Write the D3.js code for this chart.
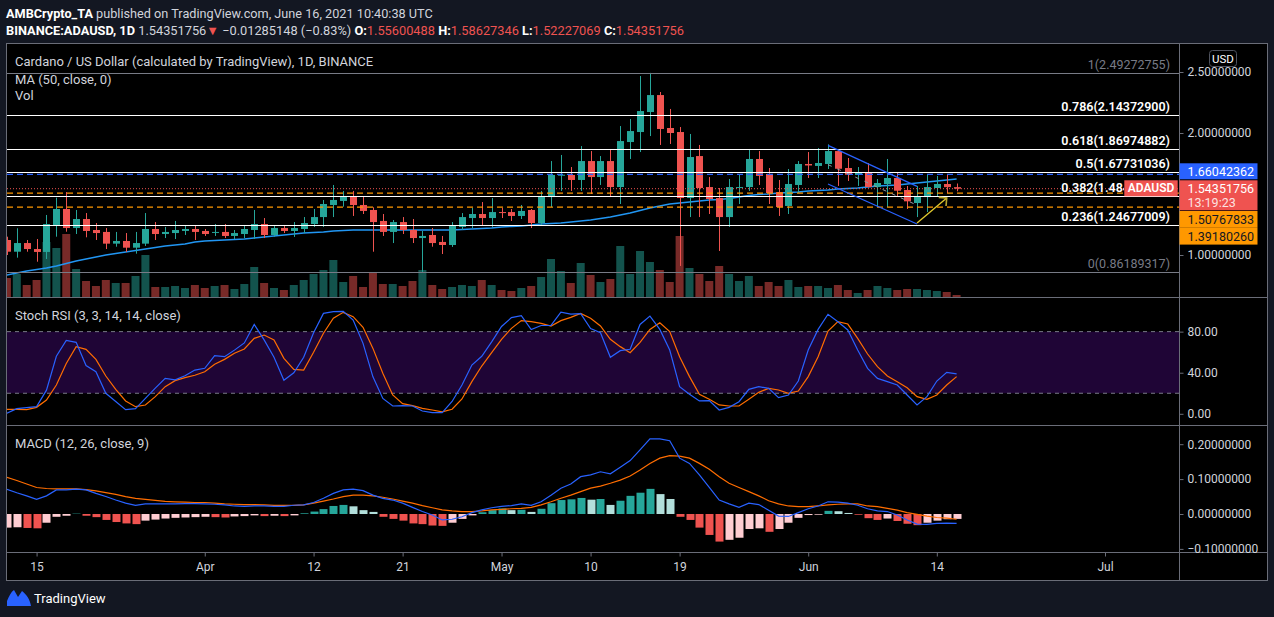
<!DOCTYPE html>
<html><head><meta charset="utf-8">
<script src="https://cdn.jsdelivr.net/npm/d3@7/dist/d3.min.js"></script>
<style>
html,body{margin:0;padding:0;background:#131722;overflow:hidden;}
svg{display:block;}
text{font-family:Roboto,"Noto Sans",sans-serif;}
</style></head><body>
<svg id="c" width="1274" height="617"></svg>
<script>
// ---------------- DATA ----------------
const firstDay = Date.UTC(2021, 2, 12);   // Mar 12 2021
const lastDayExclusive = Date.UTC(2021, 5, 17);
const dates = d3.utcDays(new Date(firstDay), new Date(lastDayExclusive));

const open  = [1.123,1.027,1.098,1.049,1.025,1.246,1.377,1.221,1.295,1.205,1.189,1.093,1.115,1.060,1.093,1.213,1.172,1.180,1.197,1.213,1.197,1.186,1.189,1.156,1.172,1.205,1.254,1.164,1.221,1.197,1.213,1.254,1.311,1.410,1.443,1.481,1.410,1.369,1.279,1.189,1.270,1.205,1.139,1.164,1.107,1.082,1.230,1.303,1.336,1.303,1.352,1.352,1.320,1.369,1.262,1.475,1.656,1.656,1.615,1.770,1.639,1.770,1.557,1.926,2.008,2.172,2.311,2.041,2.008,1.467,1.811,1.557,1.467,1.311,1.553,1.557,1.787,1.664,1.516,1.402,1.574,1.746,1.730,1.746,1.852,1.713,1.656,1.680,1.557,1.582,1.631,1.533,1.426,1.475,1.549,1.582,1.556];
const high  = [1.150,1.219,1.123,1.131,1.328,1.470,1.516,1.369,1.344,1.262,1.221,1.189,1.180,1.189,1.344,1.270,1.230,1.279,1.246,1.246,1.213,1.254,1.254,1.205,1.246,1.369,1.303,1.238,1.246,1.270,1.311,1.377,1.451,1.574,1.525,1.525,1.475,1.391,1.336,1.287,1.311,1.295,1.197,1.221,1.156,1.270,1.344,1.385,1.434,1.467,1.385,1.377,1.410,1.377,1.525,1.770,1.820,1.721,1.893,1.852,1.811,1.861,2.057,2.115,2.467,2.4927,2.336,2.197,2.049,1.992,1.902,1.639,1.549,1.623,1.656,1.869,1.852,1.713,1.615,1.705,1.770,1.844,1.877,1.907,1.861,1.795,1.721,1.754,1.623,1.787,1.680,1.566,1.566,1.656,1.648,1.656,1.586];
const low   = [1.000,0.978,1.027,0.945,0.967,1.150,1.191,1.172,1.145,1.123,1.049,1.068,1.025,1.011,1.074,1.123,1.139,1.131,1.164,1.123,1.156,1.156,1.139,1.131,1.139,1.131,1.139,1.150,1.180,1.148,1.180,1.230,1.230,1.311,1.396,1.320,1.336,1.027,1.156,1.098,1.172,1.098,0.862,1.068,1.008,1.066,1.205,1.221,1.246,1.230,1.303,1.279,1.295,1.221,1.246,1.393,1.525,1.525,1.525,1.500,1.574,1.475,1.418,1.787,1.844,1.975,1.902,1.910,0.910,1.311,1.311,1.336,1.033,1.230,1.418,1.525,1.574,1.418,1.320,1.336,1.508,1.631,1.631,1.705,1.566,1.607,1.566,1.553,1.393,1.393,1.484,1.377,1.311,1.352,1.484,1.508,1.522];
const close = [1.027,1.098,1.049,1.025,1.254,1.377,1.221,1.295,1.197,1.180,1.093,1.115,1.060,1.098,1.213,1.172,1.189,1.205,1.213,1.189,1.172,1.189,1.156,1.180,1.213,1.254,1.164,1.221,1.197,1.221,1.262,1.311,1.418,1.451,1.481,1.410,1.361,1.270,1.189,1.270,1.205,1.139,1.156,1.098,1.082,1.238,1.311,1.336,1.303,1.352,1.348,1.320,1.361,1.262,1.484,1.656,1.658,1.615,1.770,1.639,1.770,1.557,1.934,2.016,2.180,2.311,2.033,2.000,1.467,1.803,1.549,1.459,1.311,1.557,1.557,1.787,1.648,1.508,1.393,1.582,1.746,1.734,1.754,1.852,1.707,1.658,1.680,1.557,1.590,1.631,1.527,1.440,1.481,1.557,1.582,1.556,1.5435];
const volume = [190,230,120,170,550,490,630,280,160,110,170,140,140,210,420,100,100,110,90,120,90,110,120,80,130,300,140,90,70,120,170,230,270,370,150,210,100,250,130,130,110,160,270,120,80,100,120,110,170,120,70,60,90,110,200,380,260,140,340,220,150,180,510,230,460,350,270,150,610,290,230,160,310,230,160,210,110,150,110,170,100,110,110,90,120,70,40,70,110,90,70,80,80,70,60,50,20];
const ma50 = [0.836,0.852,0.869,0.881,0.893,0.910,0.930,0.951,0.967,0.984,1.000,1.012,1.025,1.037,1.049,1.061,1.074,1.082,1.090,1.107,1.115,1.119,1.123,1.127,1.131,1.139,1.148,1.156,1.164,1.172,1.180,1.184,1.189,1.197,1.201,1.205,1.205,1.205,1.205,1.205,1.205,1.205,1.205,1.205,1.205,1.205,1.209,1.213,1.217,1.221,1.230,1.234,1.238,1.246,1.254,1.258,1.262,1.270,1.279,1.287,1.299,1.311,1.328,1.344,1.365,1.385,1.402,1.418,1.426,1.434,1.443,1.451,1.455,1.463,1.475,1.488,1.496,1.500,1.508,1.512,1.516,1.525,1.529,1.533,1.541,1.545,1.549,1.557,1.566,1.570,1.574,1.582,1.590,1.598,1.607,1.615,1.623];
const stochK = [0.5,5,6,7,23,56,71.5,69.6,47,41,20,12,4,5,15,25,34.5,33,37,42.6,44.3,56.6,55.6,62,69,87,72,55,32.6,40,55,79,97.8,99.4,99.8,91.3,68.6,36,15,7.6,7.9,7.6,2.7,1.1,1.1,12,28,47.5,56,70,85,93.6,95.6,82,86,86,99,97,97.5,83,79,55,61.5,62.8,87,95.2,82.2,62.1,26.4,19,12.5,12.8,3.7,6.3,11.8,23.8,26.4,24.8,15.7,18.3,31.9,62.1,82.2,96.9,89.7,81.6,62.1,44.3,34.5,31.3,28,18.3,8.6,16.7,31.9,40.4,38.8];
const stochD = [4.4,4.4,4.0,6.3,13.4,28,49,65.4,62.8,53,36.8,23.8,12.5,6.9,8.6,16.7,26.4,32.3,35.2,37.5,41,48.2,53,58.9,63.1,73.5,76.7,71.9,54,43.3,42.6,59.9,78.4,93,98.8,94.6,84.2,63.7,39.4,18.3,9.9,7.9,5.3,3.7,1.8,4.4,14.4,31.3,46.5,59.5,72.5,83.2,90.7,89.7,88.1,85.5,90.7,93.9,97.8,93,85.5,72.5,65.4,59.5,69.6,82.2,88.7,80,55.6,36.2,19,14.1,8.6,7.6,7.6,14.1,20.9,24.8,23.2,19.9,22.2,36.2,55.6,80.6,89.7,87.4,73.5,58.2,45.9,36.8,31.3,25.4,16.7,14.1,18.3,28,36.2];
const macdLine = [0.071,0.061,0.052,0.042,0.052,0.069,0.069,0.071,0.069,0.059,0.050,0.040,0.031,0.025,0.029,0.029,0.029,0.029,0.030,0.030,0.029,0.028,0.026,0.023,0.022,0.023,0.023,0.022,0.022,0.025,0.026,0.033,0.045,0.059,0.069,0.071,0.067,0.054,0.045,0.040,0.031,0.019,0.007,-0.003,-0.017,-0.015,-0.008,0.004,0.012,0.018,0.022,0.024,0.029,0.025,0.035,0.054,0.074,0.086,0.107,0.112,0.121,0.115,0.134,0.153,0.184,0.215,0.215,0.210,0.160,0.145,0.112,0.076,0.040,0.029,0.019,0.031,0.027,0.011,-0.006,-0.007,0.004,0.015,0.023,0.035,0.034,0.031,0.025,0.015,0.009,0.007,-0.003,-0.017,-0.029,-0.030,-0.027,-0.026,-0.027];
const signalLine = [0.105,0.096,0.086,0.076,0.073,0.072,0.072,0.072,0.070,0.066,0.061,0.056,0.050,0.045,0.042,0.039,0.036,0.035,0.034,0.033,0.033,0.031,0.029,0.028,0.027,0.027,0.026,0.025,0.025,0.025,0.026,0.031,0.037,0.043,0.050,0.054,0.054,0.052,0.048,0.043,0.037,0.031,0.024,0.018,0.012,0.009,0.007,0.007,0.009,0.012,0.013,0.015,0.016,0.019,0.026,0.035,0.045,0.054,0.064,0.074,0.080,0.088,0.097,0.109,0.126,0.145,0.160,0.167,0.166,0.160,0.145,0.128,0.107,0.088,0.076,0.064,0.052,0.038,0.029,0.023,0.021,0.021,0.023,0.026,0.028,0.029,0.029,0.023,0.021,0.016,0.011,0.004,-0.001,-0.006,-0.010,-0.012,-0.015];
const histogram = [-0.039,-0.038,-0.040,-0.041,-0.025,-0.008,-0.005,0.001,-0.005,-0.009,-0.017,-0.023,-0.027,-0.029,-0.019,-0.016,-0.013,-0.011,-0.010,-0.009,-0.008,-0.009,-0.010,-0.007,-0.006,-0.004,-0.006,-0.005,-0.006,-0.004,0.002,0.007,0.014,0.023,0.026,0.022,0.011,0.006,-0.008,-0.014,-0.019,-0.027,-0.029,-0.033,-0.034,-0.025,-0.014,-0.004,0.005,0.011,0.016,0.011,0.012,0.006,0.015,0.031,0.040,0.042,0.046,0.041,0.043,0.026,0.038,0.052,0.061,0.072,0.057,0.043,-0.008,-0.017,-0.039,-0.060,-0.079,-0.074,-0.068,-0.043,-0.041,-0.051,-0.043,-0.025,-0.011,-0.003,-0.002,0.009,0.008,0.003,-0.002,-0.012,-0.017,-0.013,-0.020,-0.028,-0.032,-0.025,-0.019,-0.015,-0.014];

const fibRatios = ["1", "0.786", "0.618", "0.5", "0.382", "0.236", "0"];
const fibPrices = [2.49272755, 2.14372900, 1.86974882, 1.67731036, 1.48487079, 1.24677009, 0.86189317];
const blueLevel = 1.66042362;
const orangeLevels = [1.50767833, 1.39180260];
const lastPrice = 1.54351756;
const countdown = "13:19:23";

const xTickDates = [Date.UTC(2021,2,15),Date.UTC(2021,3,1),Date.UTC(2021,3,12),Date.UTC(2021,3,21),Date.UTC(2021,4,1),Date.UTC(2021,4,10),Date.UTC(2021,4,19),Date.UTC(2021,5,1),Date.UTC(2021,5,14),Date.UTC(2021,6,1)];
const xTickLabels = ["15","Apr","12","21","May","10","19","Jun","14","Jul"];
const priceTicks = [1.0, 2.0, 2.5];
const stochTicks = [0, 40, 80];
const macdTicks = [-0.1, 0, 0.1, 0.2];

// drawings (date index, price)
const channelUpper = [[83, 1.899], [92, 1.563]];
const channelLower = [[83, 1.582], [92, 1.254]];
const arrowPts = [[92, 1.262], [95, 1.467]];

// ---------------- LAYOUT ----------------
const svg = d3.select("#c");
const L = 7, R = 1179;
const up = "#26a69a", down = "#ef5350";
const txt = "#d1d4dc";

const x = d3.scaleUtc().domain([new Date(firstDay), new Date(firstDay + 118.48*864e5)]).range([6.9, 1179]);
const yP = d3.scaleLinear().domain([1, 2.5]).range([255, 72]);
const yV = d3.scaleLinear().domain([0, 1000]).range([297, 197]);
const yS = d3.scaleLinear().domain([0, 100]).range([413.8, 311.1]);
const yM = d3.scaleLinear().domain([-0.1, 0.2]).range([548.9, 444.2]);

svg.append("rect").attr("width",1274).attr("height",617).attr("fill","#131722");
svg.append("rect").attr("x",6.5).attr("y",43.5).attr("width",1261).attr("height",537).attr("fill","#000").attr("stroke","#6a6d78");

const defs = svg.append("defs");
function clip(id,y0,y1,x1){ defs.append("clipPath").attr("id",id).append("rect").attr("x",L).attr("y",y0).attr("width",(x1||R)-L).attr("height",y1-y0); return "url(#"+id+")"; }
const gMain = svg.append("g").attr("clip-path", clip("cm",44,297));
const gSt = svg.append("g").attr("clip-path", clip("cs",298,425));
const gMa = svg.append("g").attr("clip-path", clip("cd",426,552));
const labelClip = clip("cf",44,297,1124);

const idx = d3.range(dates.length);
const isUp = i => close[i] >= open[i];

// volume
gMain.selectAll("rect.v").data(idx).join("rect")
  .attr("x", i => x(dates[i]) - 4).attr("width", 8)
  .attr("y", i => yV(volume[i])).attr("height", i => yV(0) - yV(volume[i]))
  .attr("fill", i => isUp(i) ? up : down).attr("opacity", 0.5);

// MA
gMain.append("path").datum(idx).attr("fill","none").attr("stroke","#2196f3").attr("stroke-width",1.4)
  .attr("d", d3.line().x(i => x(dates[i])).y(i => yP(ma50[i])));

// candles
gMain.selectAll("line.w").data(idx).join("line")
  .attr("x1", i => Math.round(x(dates[i]))+0.5).attr("x2", i => Math.round(x(dates[i]))+0.5)
  .attr("y1", i => yP(high[i])).attr("y2", i => yP(low[i]))
  .attr("stroke", i => isUp(i) ? up : down).attr("stroke-width",1);
gMain.selectAll("rect.b").data(idx).join("rect")
  .attr("x", i => Math.round(x(dates[i])) - 3).attr("width", 7)
  .attr("y", i => yP(Math.max(open[i], close[i])))
  .attr("height", i => Math.max(1, Math.abs(yP(open[i]) - yP(close[i]))))
  .attr("fill", i => isUp(i) ? up : down);

// fib levels
const fibs = fibRatios.map((r,k) => ({r, p: fibPrices[k], edge: (r==="1"||r==="0")}));
gMain.selectAll("line.f").data(fibs).join("line")
  .attr("x1", L).attr("x2", R).attr("y1", d => Math.round(yP(d.p))+0.5).attr("y2", d => Math.round(yP(d.p))+0.5)
  .attr("stroke", d => d.edge ? "#787b86" : "#ffffff").attr("stroke-width",1);
svg.append("g").selectAll("text.f").data(fibs).join("text")
  .attr("x", 1170).attr("y", d => yP(d.p) - 4).attr("text-anchor","end")
  .attr("font-size", 12.5).attr("font-weight", d => d.edge ? 400 : 600)
  .attr("fill", d => d.edge ? "#787b86" : "#ffffff")
  .attr("clip-path", d => d.r === "0.382" ? labelClip : null)
  .text(d => d.r + "(" + d.p.toFixed(8) + ")");

// horizontal price lines
gMain.append("line").attr("x1",L).attr("x2",R).attr("y1",yP(blueLevel)).attr("y2",yP(blueLevel))
  .attr("stroke","#2962ff").attr("stroke-width",1.3).attr("stroke-dasharray","6,4");
gMain.selectAll("line.o").data(orangeLevels).join("line")
  .attr("x1",L).attr("x2",R).attr("y1",d=>yP(d)).attr("y2",d=>yP(d))
  .attr("stroke","#ff9800").attr("stroke-width",1.3).attr("stroke-dasharray","6,4");
gMain.append("line").attr("x1",L).attr("x2",R).attr("y1",yP(lastPrice)).attr("y2",yP(lastPrice))
  .attr("stroke","#ef5350").attr("stroke-width",1).attr("stroke-dasharray","1,2");

// channel drawing
const pt = d => [x(dates[d[0]]), yP(d[1])];
const ln = d3.line();
gMain.append("path").attr("d", ln(channelUpper.map(pt))).attr("stroke","#2962ff").attr("stroke-width",1.3).attr("fill","none");
gMain.append("path").attr("d", ln(channelLower.map(pt))).attr("stroke","#2962ff").attr("stroke-width",1.3).attr("fill","none");
const mid = channelUpper.map((d,k) => [d[0], (d[1] + channelLower[k][1]) / 2]);
gMain.append("path").attr("d", ln(mid.map(pt))).attr("stroke","#9598a1").attr("stroke-width",1).attr("stroke-dasharray","4,6").attr("fill","none");
// arrow
const a0 = pt(arrowPts[0]), a1 = pt(arrowPts[1]);
const ang = Math.atan2(a1[1]-a0[1], a1[0]-a0[0]);
gMain.append("path").attr("d", ln([a0,a1])).attr("stroke","#e0c82e").attr("stroke-width",1.4).attr("fill","none");
gMain.append("path").attr("d", ln([[a1[0]-8*Math.cos(ang-Math.PI/4), a1[1]-8*Math.sin(ang-Math.PI/4)], a1, [a1[0]-8*Math.cos(ang+Math.PI/4), a1[1]-8*Math.sin(ang+Math.PI/4)]]))
  .attr("stroke","#b9a52a").attr("stroke-width",1.6).attr("fill","none");

// ---------- Stoch RSI ----------
gSt.append("rect").attr("x",L).attr("width",R-L).attr("y",yS(80)).attr("height",yS(20)-yS(80)).attr("fill","#1f0536");
gSt.selectAll("line.sb").data([80,20]).join("line").attr("x1",L).attr("x2",R).attr("y1",d=>yS(d)).attr("y2",d=>yS(d))
  .attr("stroke","#787b86").attr("stroke-dasharray","4,4");
gSt.append("path").datum(idx).attr("fill","none").attr("stroke","#ff6d00").attr("stroke-width",1.2)
  .attr("d", d3.line().x(i=>x(dates[i])).y(i=>yS(stochD[i])));
gSt.append("path").datum(idx).attr("fill","none").attr("stroke","#2962ff").attr("stroke-width",1.2)
  .attr("d", d3.line().x(i=>x(dates[i])).y(i=>yS(stochK[i])));

// ---------- MACD ----------
const hc = i => {
  const h = histogram[i], p = i>0 ? histogram[i-1] : -Infinity;
  if (h >= 0) return h > p ? "#26a69a" : "#b2dfdb";
  return h > p ? "#ffcdd2" : "#ef5350";
};
gMa.selectAll("rect.h").data(idx).join("rect")
  .attr("x", i => Math.round(x(dates[i])) - 3.5).attr("width", 8)
  .attr("y", i => yM(Math.max(0, histogram[i]))).attr("height", i => Math.abs(yM(histogram[i]) - yM(0)))
  .attr("fill", hc);
gMa.append("path").datum(idx).attr("fill","none").attr("stroke","#ff6d00").attr("stroke-width",1.2)
  .attr("d", d3.line().x(i=>x(dates[i])).y(i=>yM(signalLine[i])));
gMa.append("path").datum(idx).attr("fill","none").attr("stroke","#2962ff").attr("stroke-width",1.2)
  .attr("d", d3.line().x(i=>x(dates[i])).y(i=>yM(macdLine[i])));

// separators
svg.selectAll("line.sep").data([297.5, 425.5, 552.5]).join("line")
  .attr("x1",L).attr("x2",1267).attr("y1",d=>d).attr("y2",d=>d).attr("stroke","#6a6d78");
svg.append("line").attr("x1",R+0.5).attr("x2",R+0.5).attr("y1",43.5).attr("y2",580.5).attr("stroke","#6a6d78");

// axes
function styleAxis(g){ g.select(".domain").remove(); g.selectAll("line").attr("stroke","#6a6d78"); g.selectAll("text").attr("fill",txt).attr("font-size",12).attr("font-family","Roboto, sans-serif"); }
svg.append("g").attr("transform",`translate(${R+0.5},0)`).call(d3.axisRight(yP).tickValues(priceTicks).tickFormat(d3.format(".8f")).tickSize(4).tickPadding(4)).call(styleAxis);
svg.append("g").attr("transform",`translate(${R+0.5},0)`).call(d3.axisRight(yS).tickValues(stochTicks).tickFormat(d3.format(".2f")).tickSize(4).tickPadding(4)).call(styleAxis);
svg.append("g").attr("transform",`translate(${R+0.5},0)`).call(d3.axisRight(yM).tickValues(macdTicks).tickFormat(d3.format(".8f")).tickSize(4).tickPadding(4)).call(styleAxis);
svg.append("g").attr("transform","translate(0,552.5)").call(d3.axisBottom(x).tickValues(xTickDates.map(d=>new Date(d))).tickFormat((d,k)=>xTickLabels[k]).tickSize(4).tickPadding(5.5)).call(styleAxis);

// axis price labels
const bw = 78, ax0 = R + 0.5;
const redTop = yP(lastPrice) - 8.4, redH = 30;
svg.append("rect").attr("x",ax0).attr("y",redTop-17).attr("width",bw).attr("height",16).attr("fill","#2962ff");
svg.append("text").attr("x",ax0+8).attr("y",redTop-9).attr("dy","0.35em").attr("fill","#fff").attr("font-size",12.5).text(blueLevel.toFixed(8));
svg.append("rect").attr("x",ax0).attr("y",redTop).attr("width",bw).attr("height",redH).attr("fill","#ef5350");
svg.append("text").attr("x",ax0+8).attr("y",redTop+8.2).attr("dy","0.35em").attr("fill","#fff").attr("font-size",12.5).text(lastPrice.toFixed(8));
svg.append("text").attr("x",ax0+8).attr("y",redTop+22.2).attr("dy","0.35em").attr("fill","#fff").attr("fill-opacity",0.85).attr("font-size",12.5).text(countdown);
orangeLevels.forEach((p,k) => {
  const t = redTop + redH + 0.7 + k*16.8;
  svg.append("rect").attr("x",ax0).attr("y",t).attr("width",bw).attr("height",16.8).attr("fill","#ff9800");
  svg.append("text").attr("x",ax0+8).attr("y",t+8.6).attr("dy","0.35em").attr("fill","#131722").attr("font-size",12.5).text(p.toFixed(8));
});
svg.append("rect").attr("x",1124.3).attr("y",redTop).attr("width",53.4).attr("height",16).attr("fill","#ef5350");
svg.append("text").attr("x",1151).attr("y",redTop+8).attr("dy","0.35em").attr("text-anchor","middle").attr("fill","#fff").attr("font-size",12).attr("font-weight",600).text("ADAUSD");
// USD box
svg.append("rect").attr("x",1209.5).attr("y",50.5).attr("width",27).attr("height",16).attr("rx",3).attr("fill","#000").attr("stroke","#50535e");
svg.append("text").attr("x",1223).attr("y",58.5).attr("dy","0.35em").attr("text-anchor","middle").attr("fill","#fff").attr("font-size",11.5).text("USD");

// pane titles
const title = (s,xx,yy) => svg.append("text").attr("x",xx).attr("y",yy).attr("fill",txt).attr("font-size",13).text(s);
title("Cardano / US Dollar (calculated by TradingView), 1D, BINANCE",15,65.5);
title("MA (50, close, 0)",15,83.5);
title("Vol",15,99.5);
title("Stoch RSI (3, 3, 14, 14, close)",15,319.5);
title("MACD (12, 26, close, 9)",15,447.5);

// header
const h1 = svg.append("text").attr("x",6).attr("y",18).attr("font-size",12.7).attr("fill",txt);
h1.append("tspan").attr("font-weight",700).attr("fill","#fff").text("AMBCrypto_TA");
h1.append("tspan").text(" published on TradingView.com, June 16, 2021 10:40:38 UTC");
const h2 = svg.append("text").attr("x",6).attr("y",35).attr("font-size",12.8).attr("fill",txt);
h2.append("tspan").attr("font-weight",700).attr("fill","#fff").text("BINANCE:ADAUSD, 1D");
h2.append("tspan").text(" 1.54351756");
h2.append("tspan").attr("fill","#ef5350").text("▼");
h2.append("tspan").text(" −0.01285148 (−0.83%) ");
[["O:","1.55600488"],["H:","1.58627346"],["L:","1.52227069"],["C:","1.54351756"]].forEach(([k,v],j)=>{
  h2.append("tspan").attr("font-weight",700).attr("fill","#fff").text(k);
  h2.append("tspan").attr("fill","#ef5350").text(v + (j<3?" ":""));
});

// footer logo
const lg = svg.append("g").attr("transform","translate(7,590)");
lg.append("path").attr("d","M0,16 L0,11 C2,6 4,2 7,0 L11,7 L15,1 C19,4 23,9 24,16 Z").attr("fill","#2962ff");
svg.append("text").attr("x",34).attr("y",603).attr("fill","#fff").attr("font-size",13).text("TradingView");
</script>
</body></html>
